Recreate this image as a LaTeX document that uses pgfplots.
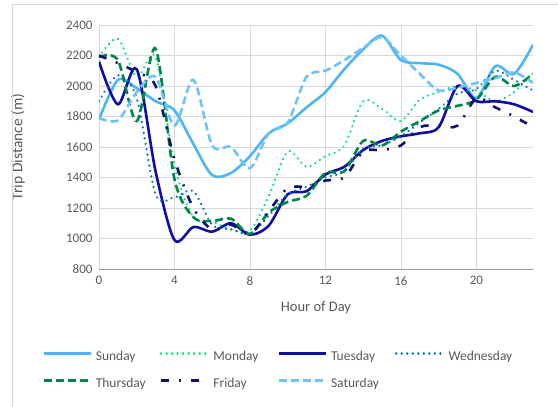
\documentclass[border=0pt]{standalone}
\usepackage{pgfplots}
\pgfplotsset{compat=1.18}
\usepackage{pgfplotstable}
\usepackage{fontspec}
\setmainfont{Carlito}
\definecolor{txt}{RGB}{89,89,89}
\definecolor{gridc}{RGB}{217,217,217}
\definecolor{csun}{RGB}{78,180,246}
\definecolor{cmon}{RGB}{0,230,122}
\definecolor{ctue}{RGB}{18,14,165}
\definecolor{cwed}{RGB}{0,112,192}
\definecolor{cthu}{RGB}{0,134,72}
\definecolor{cfri}{RGB}{18,18,110}
\definecolor{csat}{RGB}{112,194,250}
\pgfplotstableread{
h sun mon tue wed thu fri sat
0 1780 2190 2160 1900 2190 2200 1790
1 2040 2310 1880 2070 2170 2150 1775
2 1985 2060 2110 1920 1770 2090 1960
3 1900 2190 1440 1290 2245 2000 2060
4 1840 1480 990 1270 1390 1520 1740
5 1620 1140 1075 1310 1140 1200 2040
6 1415 1110 1045 1090 1115 1060 1610
7 1430 1060 1100 1060 1130 1090 1600
8 1540 1050 1025 1030 1030 1030 1460
9 1690 1280 1085 1150 1170 1180 1690
10 1755 1570 1290 1290 1240 1330 1760
11 1860 1470 1310 1340 1280 1340 2060
12 1960 1540 1420 1400 1430 1380 2100
13 2110 1610 1470 1440 1440 1400 2170
14 2240 1900 1580 1590 1640 1570 2250
15 2330 1850 1640 1610 1610 1580 2320
16 2170 1770 1670 1670 1700 1610 2200
17 2150 1910 1690 1760 1770 1730 2080
18 2140 1960 1730 1850 1840 1740 1970
19 2080 2000 2000 1950 1870 1740 1990
20 1920 1970 1900 1980 1910 1920 2020
21 2130 1900 1900 2100 2060 1860 2050
22 2080 1960 1880 2040 2000 1800 2090
23 2270 2090 1830 1970 2080 1730 2020
}\data
\newcommand{\lt}[1]{\makebox[64pt][l]{#1}}
\begin{document}
\begin{tikzpicture}
\begin{axis}[
  at={(0pt,0pt)}, anchor=south west,
  scale only axis, width=434pt, height=244pt,
  xmin=0, xmax=23, ymin=800, ymax=2400,
  xtick={0,4,8,12,16,20}, ytick={800,1000,...,2400},
  grid=major, grid style={gridc, line width=0.8pt},
  axis lines*=left,
  x axis line style={draw=gridc!70!black, line width=0.8pt},
  y axis line style={draw=gridc, line width=0.8pt},
  major tick length=0pt,
  /pgf/number format/assume math mode=true,
  /pgf/number format/set thousands separator={},
  tick label style={font=\fontsize{13}{15}\selectfont, text=txt},
  xticklabel style={yshift=-4pt},
  yticklabel style={xshift=-3pt},
  xlabel={Hour of Day}, ylabel={Trip Distance (m)},
  xlabel style={font=\fontsize{14.5}{17}\selectfont, text=txt, at={(axis description cs:0.5,-0.16)}, anchor=center},
  ylabel style={font=\fontsize{15.5}{18}\selectfont, text=txt, at={(axis description cs:-0.187,0.5)}, anchor=center},
  smooth, tension=0.5,
  legend columns=4,
  legend style={draw=none, fill=none, at={(axis description cs:-0.1313,-0.336)}, anchor=north west,
    font=\fontsize{13.5}{16}\selectfont, text=txt, inner sep=0pt,
    nodes={inner sep=0pt, text depth=3pt, text height=9pt},
    /tikz/every odd column/.append style={column sep=4pt},
    row sep=15pt},
  legend cell align=left,
  legend image code/.code={\draw[#1] (0pt,3.5pt) -- (47pt,3.5pt);},
]
\addplot[csun, line width=2.6pt, no markers] table[x=h, y=sun] {\data};
\addlegendentry{\lt{Sunday}}
\addplot[cmon, line width=2.5pt, line cap=round, dash pattern=on 0.01pt off 5.5pt, no markers] table[x=h, y=mon] {\data};
\addlegendentry{\lt{Monday}}
\addplot[ctue, line width=2.6pt, no markers] table[x=h, y=tue] {\data};
\addlegendentry{\lt{Tuesday}}
\addplot[cwed, line width=2.5pt, line cap=round, dash pattern=on 0.01pt off 5.5pt, no markers] table[x=h, y=wed] {\data};
\addlegendentry{\lt{Wednesday}}
\addplot[cthu, line width=2.6pt, dash pattern=on 8pt off 4pt, no markers] table[x=h, y=thu] {\data};
\addlegendentry{\lt{Thursday}}
\addplot[cfri, line width=2.6pt, dash pattern=on 8pt off 10pt on 2pt off 10pt, no markers] table[x=h, y=fri] {\data};
\addlegendentry{\lt{Friday}}
\addplot[csat, line width=2.6pt, dash pattern=on 8pt off 4pt, no markers] table[x=h, y=sat] {\data};
\addlegendentry{\lt{Saturday}}
\end{axis}
\draw[gridc, line width=0.8pt] (-87pt,-140pt) -- (-87pt,265pt) -- (462pt,265pt);
\pgfresetboundingbox
\path[use as bounding box] (-99pt,-138pt) rectangle (459pt,269pt);
\end{tikzpicture}
\end{document}
